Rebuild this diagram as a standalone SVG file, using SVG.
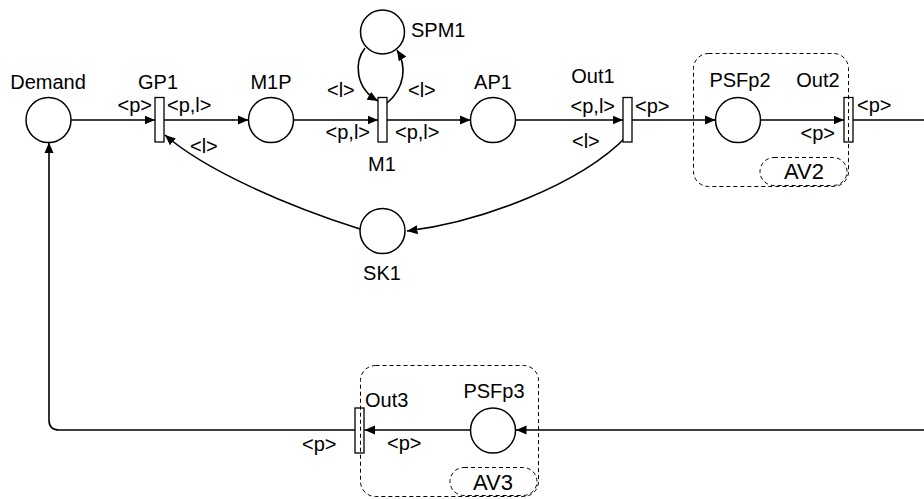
<svg xmlns="http://www.w3.org/2000/svg" width="924" height="499" viewBox="0 0 924 499">
<defs>
<marker id="arr" markerUnits="userSpaceOnUse" markerWidth="11" markerHeight="10" refX="10.5" refY="5" orient="auto">
<path d="M0,0.5 L10.5,5 L0,9.5 z" fill="#000"/>
</marker>
</defs>
<style>
text{font-family:"Liberation Sans",Arial,sans-serif;font-size:20px;fill:#000}
.m{text-anchor:middle}
.e{text-anchor:end}
.av{font-size:22px}
.pl{fill:#fff;stroke:#000;stroke-width:1.5}
.tr{fill:#fff;stroke:#000;stroke-width:1.3}
.c{fill:none;stroke:#000;stroke-width:1.6;marker-end:url(#arr)}
.g{fill:none;stroke:#000;stroke-width:1;stroke-dasharray:4,3}
</style>
<rect width="924" height="499" fill="#fff"/>
<g id="connectors">
<path class="c" d="M71,120 H155"/>
<path class="c" d="M164,120 H248.5"/>
<path class="c" d="M293.5,120 H378"/>
<path class="c" d="M387,120 H470.5"/>
<path class="c" d="M515.5,120 H623"/>
<path class="c" d="M632,120 H715.5"/>
<path class="c" d="M760.5,120 H844"/>
<path class="c" d="M853,120 H940 V430 H516"/>
<path class="c" d="M470.5,430 H364.5"/>
<path class="c" d="M355,430 H59 Q49,430 49,420 V142.5"/>
<path class="c" d="M365,48 C354,62 355,88 378,101"/>
<path class="c" d="M387,103 C405,88 407,66 397,50"/>
<path class="c" d="M627,136 C580,185 480,222 407,231"/>
<path class="c" d="M360,229 C285,205 205,170 165,135"/>
</g>
<g id="Demand"><circle class="pl" cx="48.5" cy="120" r="22.5"/><text class="m" x="48" y="89">Demand</text></g>
<g id="GP1"><rect class="tr" x="155" y="97.5" width="9" height="44.5"/><text class="m" x="158" y="89">GP1</text></g>
<g id="M1P"><circle class="pl" cx="271" cy="120" r="22.5"/><text class="m" x="271" y="89">M1P</text></g>
<g id="SPM1"><circle class="pl" cx="382.5" cy="32" r="22"/><text x="411" y="37">SPM1</text></g>
<g id="M1"><rect class="tr" x="378" y="97.5" width="9" height="44.5"/><text class="m" x="382" y="171">M1</text></g>
<g id="AP1"><circle class="pl" cx="493" cy="120" r="22.5"/><text class="m" x="493" y="89">AP1</text></g>
<g id="Out1"><rect class="tr" x="623" y="97.5" width="9" height="44.5"/><text class="m" x="593" y="83">Out1</text></g>
<g id="SK1"><circle class="pl" cx="382.5" cy="231" r="22.5"/><text class="m" x="382" y="280">SK1</text></g>
<g id="PSFp2"><circle class="pl" cx="738" cy="120" r="22.5"/><text class="m" x="740" y="87">PSFp2</text></g>
<g id="Out2"><rect class="tr" x="844" y="97.5" width="9" height="44.5"/><text class="m" x="818" y="87">Out2</text></g>
<g id="PSFp3"><circle class="pl" cx="493" cy="430.5" r="22.5"/><text class="m" x="494" y="398">PSFp3</text></g>
<g id="Out3"><rect class="tr" x="355" y="408" width="9" height="45"/><text x="365" y="407">Out3</text></g>
<g id="AV2"><rect class="g" x="693.5" y="53.5" width="155" height="133" rx="15"/><rect class="g" x="760" y="157.5" width="87" height="28" rx="14"/><text class="m av" x="804" y="179">AV2</text></g>
<g id="AV3"><rect class="g" x="360.5" y="365.5" width="178" height="131" rx="15"/><rect class="g" x="450" y="467.5" width="87" height="28" rx="14"/><text class="m av" x="493" y="490">AV3</text></g>
<g id="labels">
<text class="e" x="152" y="112">&lt;p&gt;</text>
<text x="167" y="112">&lt;p,l&gt;</text>
<text x="190" y="153">&lt;l&gt;</text>
<text x="327" y="97">&lt;l&gt;</text>
<text x="408" y="97">&lt;l&gt;</text>
<text class="e" x="370" y="139">&lt;p,l&gt;</text>
<text x="395" y="139">&lt;p,l&gt;</text>
<text class="e" x="615" y="113">&lt;p,l&gt;</text>
<text x="635" y="113">&lt;p&gt;</text>
<text x="572" y="148">&lt;l&gt;</text>
<text x="857" y="112">&lt;p&gt;</text>
<text class="e" x="835" y="140">&lt;p&gt;</text>
<text x="387" y="450">&lt;p&gt;</text>
<text x="302" y="451">&lt;p&gt;</text>
</g>
</svg>
